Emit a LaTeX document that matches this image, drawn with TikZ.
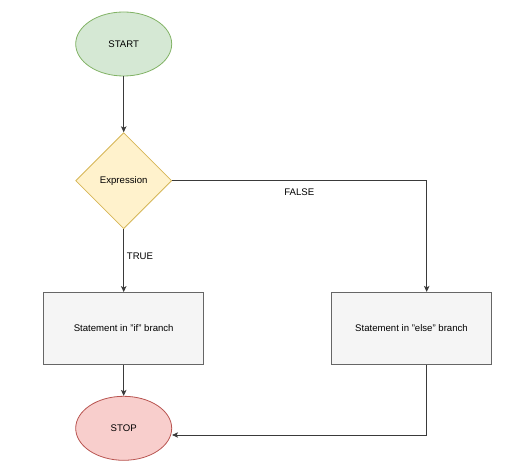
\documentclass[tikz,border=0pt]{standalone}
\usepackage{fontspec}
\setmainfont{Liberation Sans}
\usetikzlibrary{shapes.geometric,arrows.meta}
\definecolor{gfill}{HTML}{D5E8D4}\definecolor{gline}{HTML}{82B366}
\definecolor{yfill}{HTML}{FFF2CC}\definecolor{yline}{HTML}{D6B656}
\definecolor{rfill}{HTML}{F8CECC}\definecolor{rline}{HTML}{B85450}
\definecolor{sfill}{HTML}{F5F5F5}\definecolor{sline}{HTML}{666666}
\definecolor{conn}{HTML}{3A3A3A}
\tikzset{
  txt/.style={font=\fontsize{9.6}{11}\selectfont, text=black},
  term/.style={ellipse, txt, minimum width=96pt, minimum height=64pt, inner sep=0pt, line width=0.8pt},
  dec/.style={diamond, txt, minimum width=96pt, minimum height=96pt, inner sep=0pt, aspect=1, draw=yline, fill=yfill, line width=0.8pt},
  proc/.style={rectangle, txt, minimum width=160pt, minimum height=72pt, inner sep=0pt, draw=sline, fill=sfill, line width=0.8pt},
  conn/.style={draw=conn, line width=0.8pt, -{Stealth[length=6pt,width=5.5pt,inset=1.5pt]}},
  lbl/.style={txt}
}
\begin{document}
\begin{tikzpicture}[x=1pt,y=-1pt]
\useasboundingbox (0,0) rectangle (517,470);
\node[term, draw=gline, fill=gfill] (start) at (123.7,44) {START};
\node[dec] (expr) at (123.7,180.7) {Expression};
\node[proc] (ifb) at (123.7,328.5) {Statement in "if" branch};
\node[proc] (elseb) at (411.5,328.3) {Statement in "else" branch};
\node[term, draw=rline, fill=rfill] (stop) at (123.7,428.3) {STOP};
\coordinate (c1) at (426.7,180.7);
\coordinate (c2) at (426.7,435);
\draw[conn] (start) -- (expr);
\draw[conn] (expr) -- (ifb);
\draw[conn] (ifb) -- (stop);
\draw[conn] (expr.east) -- (c1) -- (elseb.north -| c1);
\draw[conn] (elseb.south -| c2) -- (c2) -- (c2 -| stop.east);
\node[lbl] (truel) at (140,256) {TRUE};
\node[lbl] (falsel) at (299.3,192.5) {FALSE};
\end{tikzpicture}
\end{document}
